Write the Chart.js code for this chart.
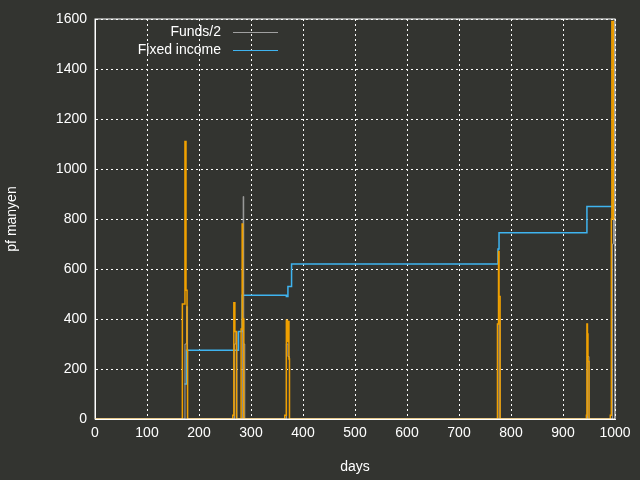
<!DOCTYPE html>
<html>
<head>
<script src="https://cdn.jsdelivr.net/npm/chart.js@4"></script>
<style>
body { margin: 0; background: #333430; }
</style>
</head>
<body>
<canvas id="myChart" width="640" height="480" style="width:640px;height:480px"></canvas>
<script>
// Series values (days, pf manyen), drawn as steps
var fundsX = [0, 170, 173, 176, 178, 265, 268, 271, 273, 281, 284, 285, 286, 288, 366, 368, 371, 374, 775, 777, 779, 945, 947, 950, 992, 995, 997, 1000];
var fundsY = [0, 0, 300, 450, 0, 0, 300, 350, 0, 0, 500, 890, 300, 0, 0, 300, 250, 0, 0, 400, 0, 0, 250, 0, 0, 700, 800, 800];
var fixedX = [172, 176, 268, 276, 283, 368, 371, 378, 775, 777, 945, 946, 993, 996, 998];
var fixedY = [140, 275, 275, 350, 495, 490, 530, 620, 680, 745, 745, 850, 850, 950, 950];
var otherX = [0, 168, 173, 175, 177, 178, 265, 267, 269, 271, 272, 281, 283, 284, 286, 365, 368, 370, 371, 373, 374, 774, 776, 777, 779, 945, 946, 947, 948, 950, 991, 993, 994, 997, 998, 1000];
var otherY = [0, 460, 1110, 515, 275, 0, 15, 465, 350, 350, 0, 360, 780, 400, 0, 15, 395, 310, 390, 240, 0, 380, 670, 490, 0, 15, 380, 340, 230, 0, 15, 800, 1590, 800, 800, 800];

function pts(xs, ys) {
    return xs.map((x, i) => ({ x: x, y: ys[i] }));
}

var FONT = { family: 'Liberation Sans', size: 14 };

// Legend like gnuplot: text right-aligned, line sample after it
const gnuLegend = {
    id: 'gnuLegend',
    afterDraw(chart) {
        const c = chart.ctx;
        c.save();
        c.font = '14px "Liberation Sans"';
        c.fillStyle = '#ffffff';
        c.textAlign = 'right';
        c.textBaseline = 'middle';
        [['Funds/2', '#a0a0a0', 32], ['Fixed income', '#3fb4f0', 50]].forEach(function(e) {
            c.fillText(e[0], 221, e[2]);
            c.strokeStyle = e[1];
            c.lineWidth = 1;
            c.beginPath();
            c.moveTo(233, e[2] + 0.5);
            c.lineTo(278, e[2] + 0.5);
            c.stroke();
        });
        c.restore();
    }
};

let ctx = document.getElementById('myChart').getContext('2d');
let myChart = new Chart(ctx, {
    type: 'line',
    data: {
        datasets: [
            { label: 'other', data: pts(otherX, otherY), borderColor: '#f0a000', borderWidth: 1.5, stepped: 'before', pointRadius: 0, fill: false },
            { label: 'Funds/2', data: pts(fundsX, fundsY), borderColor: '#a0a0a0', borderWidth: 1, stepped: 'before', pointRadius: 0, fill: false },
            { label: 'Fixed income', data: pts(fixedX, fixedY), borderColor: '#3fb4f0', borderWidth: 1.5, stepped: 'before', pointRadius: 0, fill: false }
        ]
    },
    options: {
        responsive: false,
        animation: false,
        devicePixelRatio: 1,
        layout: { padding: { top: 19, right: 25, bottom: 0, left: 0 } },
        plugins: { legend: { display: false }, tooltip: { enabled: false } },
        scales: {
            x: {
                type: 'linear', min: 0, max: 1000,
                afterFit: function(s) { s.height = 61; },
                title: { display: true, text: 'days', color: '#ffffff', font: FONT, padding: { top: 10 } },
                ticks: { stepSize: 100, color: '#ffffff', font: FONT, maxRotation: 0, padding: 6,
                    callback: function(v) { return String(v); } },
                grid: { color: '#ffffff', lineWidth: 1, tickLength: 0 },
                border: { color: '#ffffff', dash: [2, 3] }
            },
            y: {
                min: 0, max: 1600,
                afterFit: function(s) { s.width = 95; },
                title: { display: true, text: 'pf manyen', color: '#ffffff', font: FONT, padding: { bottom: 16 } },
                ticks: { stepSize: 200, color: '#ffffff', font: FONT, padding: 8,
                    callback: function(v) { return String(v); } },
                grid: { color: '#ffffff', lineWidth: 1, tickLength: 0 },
                border: { color: '#ffffff', dash: [2, 3] }
            }
        }
    },
    plugins: [gnuLegend, {
        id: 'frame',
        beforeDraw(chart) {
            const c = chart.ctx;
            c.save();
            c.fillStyle = '#333430';
            c.fillRect(0, 0, chart.width, chart.height);
            c.restore();
        },
        afterDatasetsDraw(chart) {
            const a = chart.chartArea, c = chart.ctx;
            c.save();
            c.strokeStyle = '#ffffff';
            c.lineWidth = 1;
            c.strokeRect(a.left, a.top, a.right - a.left, a.bottom - a.top);
            c.restore();
        }
    }]
});
</script>
</body>
</html>
